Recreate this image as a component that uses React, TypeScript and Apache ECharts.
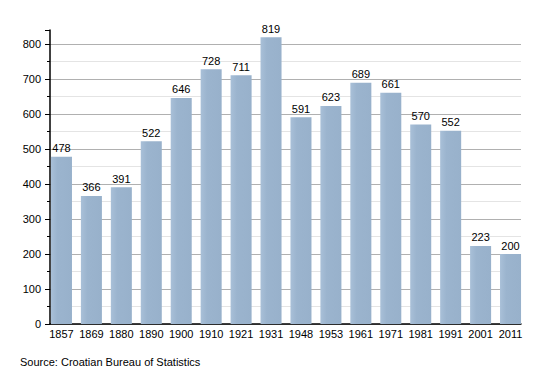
import React, { useEffect, useRef } from "react";
import * as echarts from "echarts";

const years = ["1857", "1869", "1880", "1890", "1900", "1910", "1921", "1931", "1948", "1953", "1961", "1971", "1981", "1991", "2001", "2011"];
const population = [478, 366, 391, 522, 646, 728, 711, 819, 591, 623, 689, 661, 570, 552, 223, 200];
const sourceText = "Source: Croatian Bureau of Statistics";

export default function App() {
  const ref = useRef<HTMLDivElement>(null);
  useEffect(() => {
    document.body.style.margin = "0";
    const chart = echarts.init(ref.current!, null, { renderer: "svg" });
    const font = "Liberation Sans, Arial, sans-serif";
    chart.setOption({
      animation: false,
      textStyle: { fontFamily: font },
      grid: [
        { left: 50, right: 29, top: 30, bottom: 49 },
        { left: 46.5, right: 24.5, top: 30, bottom: 49 },
      ],
      xAxis: [
        {
          type: "category",
          gridIndex: 0,
          data: years,
          axisLine: { lineStyle: { color: "#000", width: 1.5 } },
          axisTick: { show: false },
          axisLabel: { show: false },
        },
        {
          type: "category",
          gridIndex: 1,
          data: years,
          axisLine: { show: false },
          axisTick: { show: false },
          axisLabel: { color: "#000", fontSize: 11, margin: 4, interval: 0 },
        },
      ],
      yAxis: [
        {
          type: "value",
          gridIndex: 0,
          min: 0,
          max: 840,
          interval: 100,
          axisLine: { show: true, lineStyle: { color: "#000", width: 1.5 } },
          axisTick: { show: true, length: 5, lineStyle: { color: "#000" } },
          minorTick: { show: true, splitNumber: 2, length: 3, lineStyle: { color: "#000" } },
          axisLabel: { color: "#000", fontSize: 11, margin: 9, showMaxLabel: false },
          splitLine: { showMaxLine: false, lineStyle: { color: "#b0b0b0", width: 1 } },
          minorSplitLine: { show: true, lineStyle: { color: "#e4e4e4", width: 1 } },
        },
        {
          type: "value",
          gridIndex: 1,
          min: 0,
          max: 840,
          interval: 100,
          show: false,
          splitLine: { show: false },
        },
      ],
      series: [
        {
          type: "bar",
          xAxisIndex: 1,
          yAxisIndex: 1,
          data: population,
          barCategoryGap: "29.8%",
          itemStyle: {
            color: new echarts.graphic.LinearGradient(0, 0, 1, 0, [
              { offset: 0, color: "#a9c0d8" },
              { offset: 0.3, color: "#9bb4ce" },
              { offset: 1, color: "#98b1cb" },
            ]),
          },
          label: { show: true, position: "top", color: "#000", fontSize: 11, distance: 3 },
        },
      ],
      graphic: [
        { type: "text", left: 20, top: 356, style: { text: sourceText, fontSize: 11, fill: "#000", fontFamily: font } },
      ],
    });
    return () => chart.dispose();
  }, []);
  return <div ref={ref} style={{ width: 550, height: 373 }} />;
}
